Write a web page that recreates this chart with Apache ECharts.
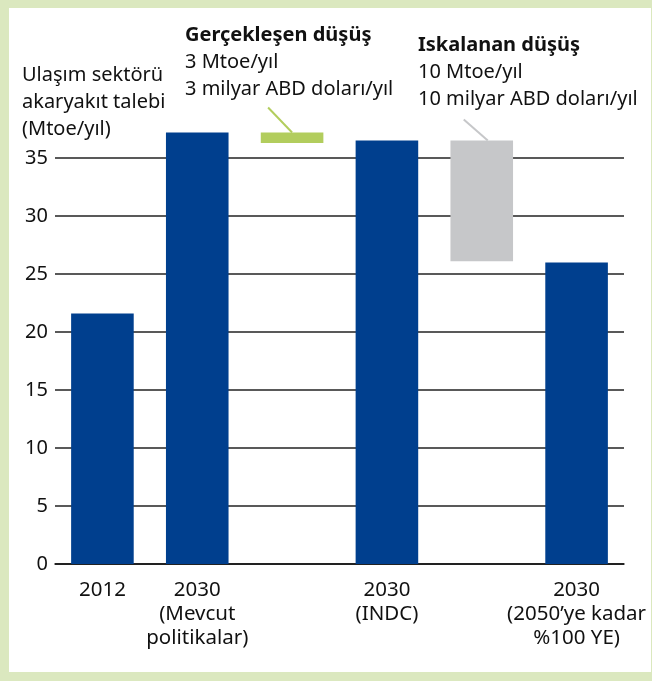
<!DOCTYPE html>
<html>
<head>
<meta charset="utf-8">
<script src="https://cdn.jsdelivr.net/npm/echarts@6/dist/echarts.min.js"></script>
<style>
    html, body { margin: 0; padding: 0; background: #fff; }
    #frame {
        width: 652px; height: 681px; box-sizing: border-box;
        border-style: solid; border-color: #dbe8bf;
        border-width: 8px 1px 9px 9px;
        position: relative;
    }
    #chart { position: absolute; left: -9px; top: -8px; width: 652px; height: 681px; }
</style>
</head>
<body>
<div id="frame"><div id="chart"></div></div>
<script>
/* 数据 */
const categories = ['2012', '2030\n(Mevcut\npolitikalar)', '', '2030\n(INDC)', '', '2030\n(2050’ye kadar\n%100 YE)'];
const barTops = [21.6, 37.2, 37.2, 36.5, 36.5, 26.0];
const barBottoms = [0, 0, 36.3, 0, 26.1, 0];
const yTicks = [0, 5, 10, 15, 20, 25, 30, 35];
const unitLines = ['Ulaşım sektörü', 'akaryakıt talebi', '(Mtoe/yıl)'];
const realisedLines = ['Gerçekleşen düşüş', '3 Mtoe/yıl', '3 milyar ABD doları/yıl'];
const missedLines = ['Iskalanan düşüş', '10 Mtoe/yıl', '10 milyar ABD doları/yıl'];

/* 样式 */
const barColors = ['#003f8e', '#003f8e', '#b2cd5d', '#003f8e', '#c6c7c9', '#003f8e'];
const FONT = '"Noto Sans", sans-serif';

const chartObj = echarts.init(document.getElementById('chart'));

function textBlock(lines, left, top, boldFirst) {
    return lines.map((s, i) => ({
        type: 'text',
        left: left,
        top: top + i * 27,
        style: {
            text: s,
            fill: '#111',
            font: (boldFirst && i === 0 ? 'bold ' : '') + '20px ' + FONT
        }
    }));
}

const option = {
    animation: false,
    grid: { left: 55, right: 28, top: 158, bottom: 117 },
    xAxis: {
        type: 'category',
        data: categories,
        axisTick: { show: false },
        axisLine: { lineStyle: { color: '#111', width: 1.5 } },
        axisLabel: {
            color: '#111', fontFamily: FONT, fontSize: 20.5,
            lineHeight: 24, margin: 14, interval: 0
        }
    },
    yAxis: {
        type: 'value',
        min: 0, max: 35, interval: 5,
        axisLine: { show: false },
        axisTick: { show: false },
        axisLabel: {
            color: '#111', fontFamily: FONT, fontSize: 20, margin: 7,
            formatter: v => (yTicks.includes(v) ? String(v) : '')
        },
        splitLine: { lineStyle: { color: '#222', width: 1.5 } }
    },
    series: [
        {
            type: 'bar', stack: 'w', barWidth: '66%', clip: false,
            itemStyle: { color: 'transparent' },
            data: barBottoms
        },
        {
            type: 'bar', stack: 'w', barWidth: '66%', clip: false,
            data: barTops.map((t, i) => ({
                value: +(t - barBottoms[i]).toFixed(2),
                itemStyle: { color: barColors[i] }
            }))
        }
    ],
    graphic: []
};

chartObj.setOption(option);

// 引线：根据柱顶坐标计算
const gTop = chartObj.convertToPixel({ xAxisIndex: 0, yAxisIndex: 0 }, [2, barTops[2]]);
const sTop = chartObj.convertToPixel({ xAxisIndex: 0, yAxisIndex: 0 }, [4, barTops[4]]);

chartObj.setOption({
    graphic: [
        ...textBlock(unitLines, 22, 65, false),
        ...textBlock(realisedLines, 185, 25, true),
        ...textBlock(missedLines, 418, 35, true),
        {
            type: 'line',
            shape: { x1: gTop[0] - 24, y1: gTop[1] - 25, x2: gTop[0], y2: gTop[1] },
            style: { stroke: '#b2cd5d', lineWidth: 2 }
        },
        {
            type: 'line',
            shape: { x1: sTop[0] - 18, y1: sTop[1] - 21, x2: sTop[0] + 6, y2: sTop[1] },
            style: { stroke: '#c6c7c9', lineWidth: 2 }
        }
    ]
});
</script>
</body>
</html>
